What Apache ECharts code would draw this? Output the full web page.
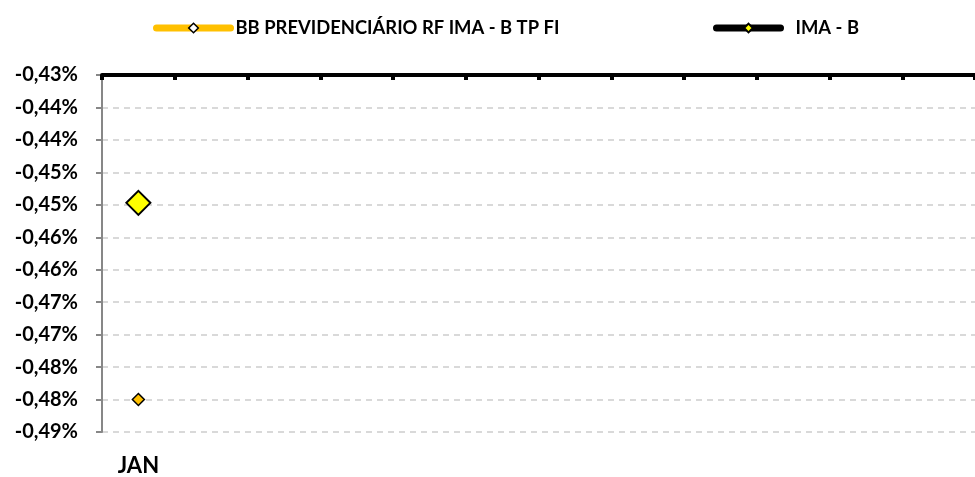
<!DOCTYPE html>
<html>
<head>
<meta charset="utf-8">
<script src="https://cdn.jsdelivr.net/npm/echarts@6/dist/echarts.min.js"></script>
<style>html,body{margin:0;padding:0;background:#fff}#c{width:975px;height:477px}</style>
</head>
<body>
<div id="c"></div>
<script>
const categories = ['JAN', '', '', '', '', '', '', '', '', '', '', ''];
const bbPrev = [-0.48, null, null, null, null, null, null, null, null, null, null, null];
const imaB = [-0.4497, null, null, null, null, null, null, null, null, null, null, null];
const seriesNames = ['BB PREVIDENCIÁRIO RF IMA - B TP FI', 'IMA - B'];
const yMin = -0.485, yMax = -0.43, yStep = 0.005;

function fmt(v) {
  const a = Math.abs(v);
  const r = Math.round(a * 100 + 1e-6) / 100;
  return (v < 0 ? '-' : '') + r.toFixed(2).replace('.', ',') + '%';
}
const FONT = 'Lato';
const chart = echarts.init(document.getElementById('c'), null, {renderer: 'canvas'});
chart.setOption({
  animation: false,
  backgroundColor: '#fff',
  legend: [
    {
      left: 148, top: 14, itemWidth: 74, itemHeight: 12,
      data: [{name: seriesNames[0], itemStyle: {color: '#ffffff', borderColor: '#000', borderWidth: 1.5}}],
      lineStyle: {width: 7, cap: 'round'},
      textStyle: {fontFamily: FONT, fontWeight: 'bold', fontSize: 18.4, color: '#000'}
    },
    {
      left: 708, top: 14, itemWidth: 64, itemHeight: 11,
      data: [{name: seriesNames[1]}],
      lineStyle: {width: 7, cap: 'round'},
      textStyle: {fontFamily: FONT, fontWeight: 'bold', fontSize: 18.4, color: '#000', padding: [0, 0, 0, 10]}
    }
  ],
  grid: {left: 102, right: 0, top: 75, bottom: 44, containLabel: false},
  xAxis: [
    {
      type: 'category', data: categories, position: 'top', boundaryGap: true,
      axisLine: {show: true, onZero: false, lineStyle: {color: '#000', width: 4}},
      axisTick: {show: true, inside: true, length: 5, lineStyle: {color: '#000', width: 4}},
      axisLabel: {show: false}, splitLine: {show: false}, z: 10
    },
    {
      type: 'category', data: categories, position: 'bottom', boundaryGap: true,
      axisLine: {show: false}, axisTick: {show: false}, splitLine: {show: false},
      axisLabel: {show: true, interval: 0, margin: 23, fontFamily: FONT, fontWeight: 'bold', fontSize: 22, color: '#000'}
    }
  ],
  yAxis: {
    type: 'value', min: yMin, max: yMax, interval: yStep,
    axisLine: {show: true, onZero: false, lineStyle: {color: '#878787', width: 2}},
    axisTick: {show: true, length: 6, lineStyle: {color: '#878787', width: 2}},
    splitLine: {show: true, lineStyle: {color: '#d9d9d9', width: 2, type: [6, 5]}},
    axisLabel: {formatter: fmt, margin: 24, fontFamily: FONT, fontWeight: 'bold', fontSize: 20, color: '#000'}
  },
  series: [
    {
      name: seriesNames[0], type: 'line', data: bbPrev, xAxisIndex: 0,
      symbol: 'diamond', symbolSize: 12, showSymbol: true,
      lineStyle: {color: '#FFC000', width: 7, cap: 'round'},
      itemStyle: {color: '#FFC000', borderColor: '#000', borderWidth: 1.5}, z: 5
    },
    {
      name: seriesNames[1], type: 'line', data: imaB, xAxisIndex: 0,
      symbol: 'diamond', symbolSize: 24, showSymbol: true,
      lineStyle: {color: '#000', width: 7, cap: 'round'},
      itemStyle: {color: '#FFFF00', borderColor: '#000', borderWidth: 2}, z: 5
    }
  ]
});
</script>
</body>
</html>
